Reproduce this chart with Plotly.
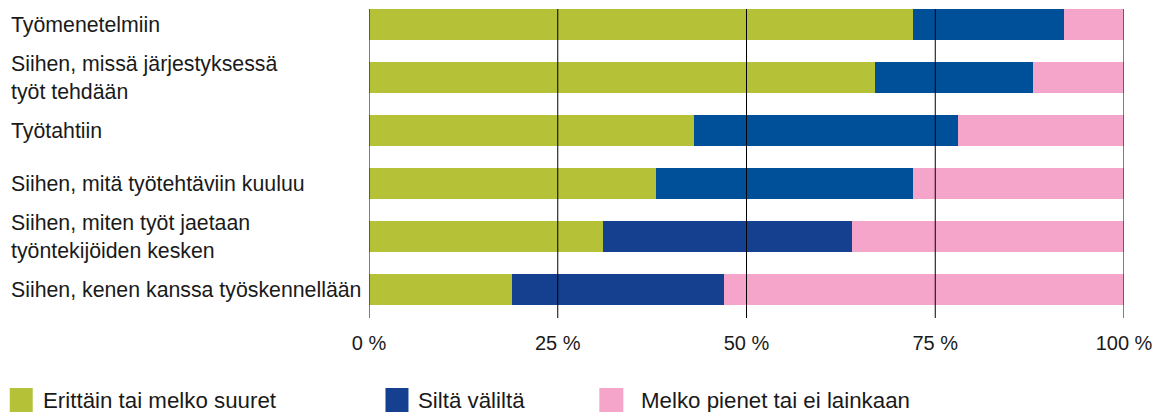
import plotly.graph_objects as go

# ---- data ----
categories = [
    "Työmenetelmiin",
    "Siihen, missä järjestyksessä<br>työt tehdään",
    "Työtahtiin",
    "Siihen, mitä työtehtäviin kuuluu",
    "Siihen, miten työt jaetaan<br>työntekijöiden kesken",
    "Siihen, kenen kanssa työskennellään",
]
series_names = ["Erittäin tai melko suuret", "Siltä väliltä", "Melko pienet tai ei lainkaan"]
large = [72, 67, 43, 38, 31, 19]
middle = [20, 21, 35, 34, 33, 28]
small = [8, 12, 22, 28, 36, 53]
tick_values = [0, 25, 50, 75, 100]
tick_labels = ["0 %", "25 %", "50 %", "75 %", "100 %"]

# ---- styles ----
GREEN = "#B5C136"
BLUE = "#004F99"
BLUE_DARK = "#15408F"
PINK = "#F4A5C9"
TEXT = "#1a1a1a"
FONT = "Liberation Sans, Arial, sans-serif"

OFF = 8  # browser default body margin
PAGE_W, PAGE_H = 1167, 412
W, H = PAGE_W - OFF, PAGE_H - OFF
# plot area in page pixels
PL, PR, PT, PB = 368.5, 1124, 9, 318

def px_x(p):
    return (p - PL) / (PR - PL)

def px_y(p):
    return (PB - p) / (PB - PT)

ypos = list(range(len(categories)))
blue_colors = [BLUE, BLUE, BLUE, BLUE, BLUE_DARK, BLUE_DARK]

fig = go.Figure()
fig.add_trace(go.Bar(y=ypos, x=large, orientation="h", name=series_names[0],
                     marker=dict(color=GREEN, line=dict(width=0)), width=0.585))
fig.add_trace(go.Bar(y=ypos, x=middle, orientation="h", name=series_names[1],
                     marker=dict(color=blue_colors, line=dict(width=0)), width=0.585))
fig.add_trace(go.Bar(y=ypos, x=small, orientation="h", name=series_names[2],
                     marker=dict(color=PINK, line=dict(width=0)), width=0.585))

# vertical grid lines above bars
for v in tick_values:
    fig.add_shape(type="line", xref="x", yref="paper", x0=v, x1=v, y0=0, y1=1,
                  line=dict(color="black", width=1), layer="above")

# category labels (left aligned)
for i, c in enumerate(categories):
    fig.add_annotation(xref="paper", yref="y", x=px_x(8), y=i, text=c,
                       xanchor="left", yanchor="middle", align="left", showarrow=False,
                       font=dict(family=FONT, size=21.3, color=TEXT))

# legend
leg_sq = [(9, 32), (385, 408), (599, 623)]
leg_tx = [40, 416, 639]
leg_colors = [GREEN, BLUE_DARK, PINK]
for (a, b), t, col, name in zip(leg_sq, leg_tx, leg_colors, series_names):
    fig.add_shape(type="rect", xref="paper", yref="paper",
                  x0=px_x(a), x1=px_x(b), y0=px_y(388), y1=px_y(413),
                  fillcolor=col, line=dict(width=0))
    fig.add_annotation(xref="paper", yref="paper", x=px_x(t), y=px_y(400.5), text=name,
                       xanchor="left", yanchor="middle", showarrow=False,
                       font=dict(family=FONT, size=22.3, color=TEXT))

fig.update_layout(
    width=W, height=H,
    margin=dict(l=PL - OFF, r=PAGE_W - PR, t=PT - OFF, b=PAGE_H - PB, pad=0),
    barmode="stack",
    showlegend=False,
    plot_bgcolor="white", paper_bgcolor="white",
    font=dict(family=FONT, size=20, color=TEXT),
    xaxis=dict(range=[0, 100], tickvals=tick_values, ticktext=tick_labels,
               showgrid=False, zeroline=False, showline=False, ticks="",
               ticklabelstandoff=11, tickfont=dict(family=FONT, size=20, color=TEXT),
               fixedrange=True),
    yaxis=dict(range=[5.5375, -0.2925], showticklabels=False, showgrid=False,
               zeroline=False, showline=False, ticks="", fixedrange=True),
)

fig.write_html("out.html")
